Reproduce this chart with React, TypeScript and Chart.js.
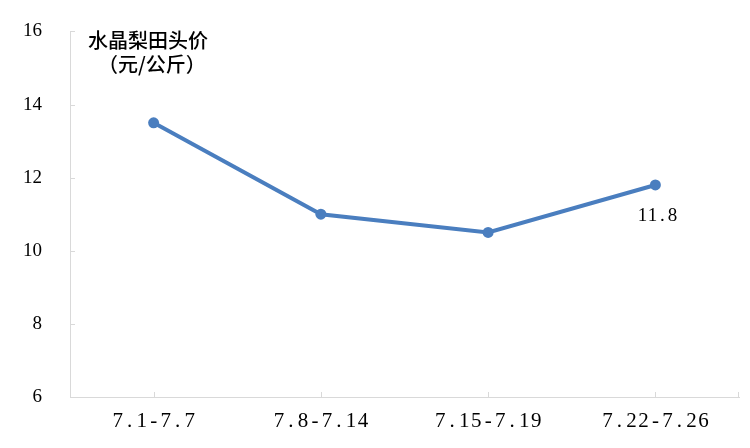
import React, { useEffect, useRef } from "react";
import { Chart, registerables } from "chart.js";

Chart.register(...registerables);

const categories = ["7.1-7.7", "7.8-7.14", "7.15-7.19", "7.22-7.26"];
const prices = [13.5, 11.0, 10.5, 11.8];
const yTicks = [6, 8, 10, 12, 14, 16];
const titleLines = ["水晶梨田头价", "（元/公斤）"];
const labelIndex = 3;
const labelText = "11.8";

const axisColor = "#d9d9d9";
const lineColor = "#4a7ebf";

function drawSpaced(ctx: any, text: string, cx: number, cy: number, advance: number) {
  const chars = Array.from(text);
  const total = chars.length * advance;
  let x = cx - total / 2 + advance / 2;
  ctx.textAlign = "center";
  ctx.textBaseline = "middle";
  chars.forEach((c) => {
    ctx.fillText(c, x, cy);
    x += advance;
  });
}

export default function App() {
  const ref = useRef<HTMLCanvasElement | null>(null);
  useEffect(() => {
    document.body.style.margin = "0";
    const canvas = ref.current;
    if (!canvas) return;

    const overlay = {
      id: "overlay",
      afterDraw(chart: any) {
        const ctx = chart.ctx;
        const area = chart.chartArea;
        const xs = chart.scales.x;
        const ys = chart.scales.y;
        ctx.save();
        // tick marks (inward)
        ctx.strokeStyle = axisColor;
        ctx.lineWidth = 1;
        ctx.beginPath();
        yTicks.forEach((v) => {
          const y = Math.round(ys.getPixelForValue(v)) + 0.5;
          ctx.moveTo(area.left, y);
          ctx.lineTo(area.left + 5, y);
        });
        categories.forEach((_, i) => {
          const x = Math.round(xs.getPixelForValue(i)) + 0.5;
          ctx.moveTo(x, area.bottom);
          ctx.lineTo(x, area.bottom - 5);
        });
        ctx.moveTo(area.right - 0.5, area.bottom);
        ctx.lineTo(area.right - 0.5, area.bottom - 5);
        ctx.stroke();
        // x category labels
        ctx.fillStyle = "#000";
        ctx.font = "21px 'Liberation Serif'";
        categories.forEach((c, i) => {
          drawSpaced(ctx, c, xs.getPixelForValue(i), area.bottom + 24, 12);
        });
        // title text
        ctx.font = "500 20px 'Noto Sans CJK SC'";
        ctx.textAlign = "left";
        ctx.textBaseline = "middle";
        ctx.fillText(titleLines[0], area.left + 18, area.top + 9);
        ctx.fillText(titleLines[1], area.left + 28, area.top + 33);
        // data label
        const pt = chart.getDatasetMeta(0).data[labelIndex];
        if (pt) {
          ctx.font = "19px 'Liberation Serif'";
          drawSpaced(ctx, labelText, pt.x + 2, pt.y + 31, 10);
        }
        ctx.restore();
      },
    };

    const chart = new Chart(canvas, {
      type: "line",
      data: {
        labels: categories,
        datasets: [
          {
            data: prices,
            borderColor: lineColor,
            backgroundColor: lineColor,
            borderWidth: 4,
            pointRadius: 5.5,
            pointHoverRadius: 5.5,
            pointBorderWidth: 0,
            pointBackgroundColor: lineColor,
            pointBorderColor: lineColor,
            tension: 0,
          },
        ],
      },
      options: {
        responsive: false,
        animation: false,
        layout: { padding: { left: 0, right: 11, top: 25, bottom: 0 } },
        plugins: { legend: { display: false }, tooltip: { enabled: false } },
        scales: {
          x: {
            offset: true,
            grid: { display: false },
            border: { display: true, color: axisColor, width: 1 },
            ticks: { display: false },
            afterFit(s: any) {
              s.height = 51;
            },
          },
          y: {
            min: 6,
            max: 16,
            afterBuildTicks(s: any) {
              s.ticks = yTicks.map((v) => ({ value: v }));
            },
            grid: { display: false },
            border: { display: true, color: axisColor, width: 1 },
            ticks: {
              color: "#000",
              font: { family: "'Liberation Serif'", size: 19 },
              padding: 20,
            },
            afterFit(s: any) {
              s.width = 70;
            },
          },
        },
      },
      plugins: [overlay],
    });
    return () => chart.destroy();
  }, []);
  return <canvas ref={ref} width={750} height={448} style={{ display: "block" }} />;
}
